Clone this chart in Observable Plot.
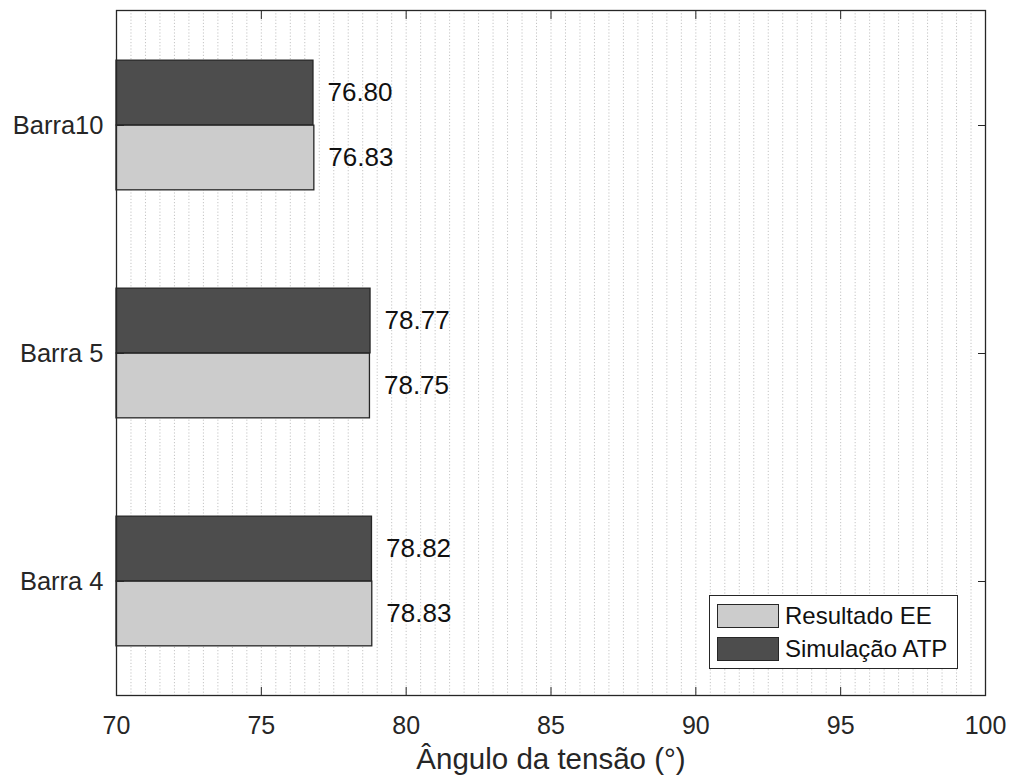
<!DOCTYPE html>
<html>
<head>
<meta charset="utf-8">
<script src="https://cdn.jsdelivr.net/npm/d3@7"></script>
<script src="https://cdn.jsdelivr.net/npm/@observablehq/plot@0.6"></script>
<style>
  html, body { margin: 0; padding: 0; background: #fff; }
  #wrap { position: relative; width: 1014px; height: 783px; font-family: "Liberation Sans", Arial, sans-serif; }
  #legend { position: absolute; left: 709px; top: 595px; width: 249px; height: 74px; border: 1.5px solid #262626; background: #fff; box-sizing: border-box; }
  .sw { position: absolute; left: 7px; width: 62px; height: 24px; border: 1.5px solid #262626; box-sizing: border-box; }
  .lt { position: absolute; left: 75px; font-size: 24px; line-height: 24px; color: #111; white-space: nowrap; }
</style>
</head>
<body>
<div id="wrap"></div>
<script>
const categories = ["Barra10", "Barra 5", "Barra 4"];
const seriesNames = ["Resultado EE", "Simulação ATP"];
const resultadoEE = [76.83, 78.75, 78.83];
const simulacaoATP = [76.80, 78.77, 78.82];
const xTicks = [70, 75, 80, 85, 90, 95, 100];
const xDomain = [70, 100];
const xLabel = "Ângulo da tensão (°)";

const colors = { "Resultado EE": "#cccccc", "Simulação ATP": "#4d4d4d" };
const edge = "#262626";

const ee = categories.map((c, i) => ({ cat: c, series: seriesNames[0], value: resultadoEE[i] }));
const atp = categories.map((c, i) => ({ cat: c, series: seriesNames[1], value: simulacaoATP[i] }));

const W = 1014, H = 783, mL = 116, mR = 29, mT = 10, mB = 88;
const step = (H - mT - mB) / categories.length;
const barH = 65;
const font = "Liberation Sans, Arial, sans-serif";

const chart = Plot.plot({
  width: W, height: H,
  marginLeft: mL, marginRight: mR, marginTop: mT, marginBottom: mB,
  style: { fontFamily: font, color: "#262626", background: "#fff" },
  x: { domain: xDomain, ticks: xTicks },
  y: { domain: categories, padding: 0 },
  marks: [
    Plot.gridX(d3.range(70.5, 100, 0.5), { stroke: "#c4c4c4", strokeOpacity: 1, strokeDasharray: "1.2,2", strokeWidth: 1 }),
    Plot.barX(atp, { x1: xDomain[0], x2: "value", y: "cat", fill: colors["Simulação ATP"], stroke: edge, strokeWidth: 1.3, insetTop: step / 2 - barH, insetBottom: step / 2 }),
    Plot.barX(ee, { x1: xDomain[0], x2: "value", y: "cat", fill: colors["Resultado EE"], stroke: edge, strokeWidth: 1.3, insetTop: step / 2, insetBottom: step / 2 - barH }),
    Plot.text(atp, { x: "value", y: "cat", text: d => d.value.toFixed(2), dx: 14, dy: -barH / 2, textAnchor: "start", fontSize: 26, fill: "#111" }),
    Plot.text(ee, { x: "value", y: "cat", text: d => d.value.toFixed(2), dx: 14, dy: barH / 2, textAnchor: "start", fontSize: 26, fill: "#111" }),
    Plot.axisX(xTicks, { anchor: "bottom", tickSize: -8, tickFormat: () => "", label: null, stroke: edge }),
    Plot.axisX(xTicks, { anchor: "top", tickSize: -8, tickFormat: () => "", label: null, stroke: edge }),
    Plot.axisX(xTicks, { anchor: "bottom", tickSize: 0, tickPadding: 21, fontSize: 25, label: null, fill: "#262626" }),
    Plot.axisY({ anchor: "left", tickSize: -8, tickFormat: () => "", label: null, stroke: edge }),
    Plot.axisY({ anchor: "right", tickSize: -8, tickFormat: () => "", label: null, stroke: edge }),
    Plot.axisY({ anchor: "left", tickSize: 0, tickPadding: 13, fontSize: 25.5, label: null, fill: "#262626" }),
    Plot.text([xLabel], { frameAnchor: "bottom", lineAnchor: "middle", dy: 64, fontSize: 29.5, fill: "#262626" }),
    Plot.frame({ stroke: edge, strokeWidth: 1.3 })
  ]
});

const wrap = document.getElementById("wrap");
wrap.appendChild(chart);

const legend = document.createElement("div");
legend.id = "legend";
seriesNames.forEach((s, i) => {
  const sw = document.createElement("div");
  sw.className = "sw";
  sw.style.top = (i === 0 ? 8 : 41) + "px";
  sw.style.background = colors[s];
  const t = document.createElement("div");
  t.className = "lt";
  t.style.top = (i === 0 ? 8 : 41) + "px";
  t.textContent = s;
  legend.appendChild(sw);
  legend.appendChild(t);
});
wrap.appendChild(legend);
</script>
</body>
</html>
